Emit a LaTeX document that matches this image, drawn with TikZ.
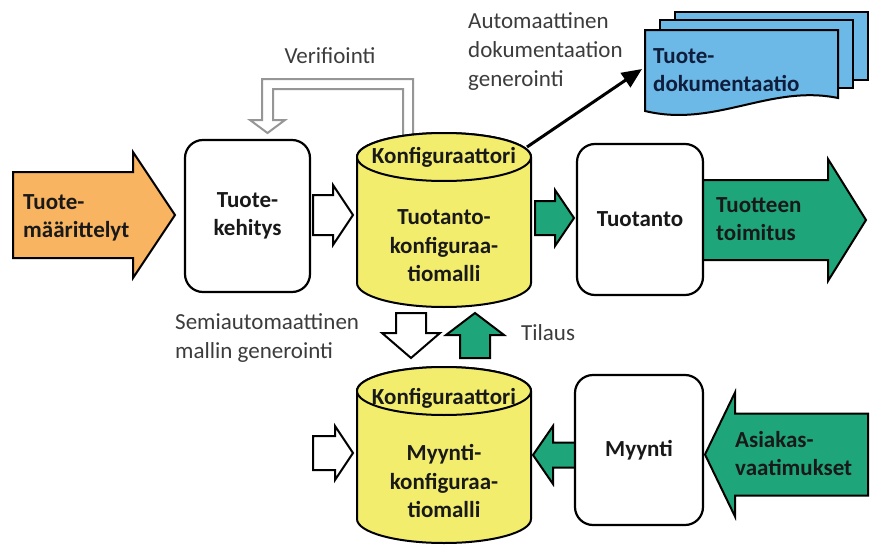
\documentclass[tikz,border=0pt]{standalone}
\usepackage{fontspec}
\setmainfont{Carlito}
\usetikzlibrary{arrows.meta}

\definecolor{orangefill}{RGB}{248,180,96}
\definecolor{yellowfill}{RGB}{243,237,110}
\definecolor{greenfill}{RGB}{30,166,122}
\definecolor{bluefill}{RGB}{108,184,230}
\definecolor{verigray}{RGB}{150,150,150}
\definecolor{labelgray}{RGB}{60,60,60}
\definecolor{darktext}{RGB}{25,25,25}
\definecolor{navytext}{RGB}{15,30,60}

% block arrows: style, tail, tip, centre line, body half width, head half width, head length
\newcommand\arrowR[7]{\draw[#1] ({#2},{#4-#5}) -- ({#3-#7},{#4-#5}) -- ({#3-#7},{#4-#6}) -- ({#3},{#4}) -- ({#3-#7},{#4+#6}) -- ({#3-#7},{#4+#5}) -- ({#2},{#4+#5}) -- cycle;}
\newcommand\arrowL[7]{\draw[#1] ({#2},{#4-#5}) -- ({#3+#7},{#4-#5}) -- ({#3+#7},{#4-#6}) -- ({#3},{#4}) -- ({#3+#7},{#4+#6}) -- ({#3+#7},{#4+#5}) -- ({#2},{#4+#5}) -- cycle;}
\newcommand\arrowD[7]{\draw[#1] ({#2-#5},{#3}) -- ({#2-#5},{#4-#7}) -- ({#2-#6},{#4-#7}) -- ({#2},{#4}) -- ({#2+#6},{#4-#7}) -- ({#2+#5},{#4-#7}) -- ({#2+#5},{#3}) -- cycle;}
\newcommand\arrowU[7]{\draw[#1] ({#2-#5},{#3}) -- ({#2-#5},{#4+#7}) -- ({#2-#6},{#4+#7}) -- ({#2},{#4}) -- ({#2+#6},{#4+#7}) -- ({#2+#5},{#4+#7}) -- ({#2+#5},{#3}) -- cycle;}

% database cylinder: centre x, top centre y, bottom centre y
\newcommand\dbcyl[3]{%
  \draw[cylstyle] ({#1-87},{#2}) -- ({#1-87},{#3})
    arc[start angle=180,end angle=360,x radius=87pt,y radius=24pt]
    -- ({#1+87},{#2})
    arc[start angle=0,end angle=180,x radius=87pt,y radius=24pt] -- cycle;
  \draw[cylstyle] ({#1},{#2}) ellipse[x radius=87pt,y radius=24pt];}

\begin{document}
\begin{tikzpicture}[x=1pt,y=-1pt,
  btxt/.style={font=\fontsize{23}{28.5}\selectfont\bfseries, text=darktext, align=center, inner sep=0pt},
  ltxt/.style={font=\fontsize{23}{29}\selectfont, text=labelgray, align=left, inner sep=0pt},
  procbox/.style={draw=black, line width=2.2pt, fill=white, rounded corners=18pt, inner sep=0pt},
  cylstyle/.style={draw=black, line width=2pt, fill=yellowfill},
  whitearrow/.style={draw=black, line width=2pt, fill=white, line join=miter},
  greenarrow/.style={draw=black, line width=2pt, fill=greenfill, line join=miter},
  orangearrow/.style={draw=black, line width=2pt, fill=orangefill, line join=miter},
  docpage/.style={draw=black, line width=2pt, fill=bluefill},
  veriarrow/.style={draw=verigray, line width=2pt, fill=white, line join=miter}]

\useasboundingbox (0,0) rectangle (871,546);
\fill[white] (0,0) rectangle (871,546);

% verification loop back to product development
\draw[veriarrow] (413,142) -- (413,79) -- (262,79) -- (262,120) -- (250,120) -- (267.5,133)
  -- (285,120) -- (273,120) -- (273,89) -- (403,89) -- (403,142);
\node[ltxt, anchor=base] (veri) at (330,63) {Verifiointi};

% product definitions input
\arrowR{orangearrow}{13}{175}{215}{43}{63}{42}
\node[btxt, align=left, anchor=west] (maar) at (23,218) {Tuote-\\määrittelyt};

% product development
\node[procbox, minimum width=125pt, minimum height=152pt] (kehitys) at (247.5,216) {};
\node[btxt] at (kehitys.center) {Tuote-\\kehitys};
\arrowR{whitearrow}{313}{353}{215}{20}{30}{20}

% production configurator
\dbcyl{444}{157}{283}
\node[btxt] (konf1) at (444,157) {Konfiguraattori};
\node[btxt] (tmalli) at (444,246) {Tuotanto-\\konfiguraa-\\tiomalli};

% documentation generation
\coordinate (cylout) at (527,147);
\coordinate (docin) at (642,69);
\draw[line width=3pt, -{Triangle[length=20pt,width=17pt]}] (cylout) -- (docin);
\node[ltxt, anchor=west] (autolbl) at (468,52) {Automaattinen\\dokumentaation\\generointi};

% stack of documentation pages
\draw[docpage] (675,12) rectangle (868,80);
\draw[docpage] (660,20) rectangle (853,88);
\draw[docpage] (645,30) -- (838,30) -- (838,98)
  .. controls (770,84) and (715,128) .. (645,111) -- cycle;
\node[btxt, text=navytext, align=left, anchor=west] (doc) at (653,70) {Tuote-\\dokumentaatio};

% production
\arrowR{greenarrow}{535}{574}{218}{17}{28}{19}
\node[procbox, minimum width=126pt, minimum height=151pt] (tuotanto) at (640,219.5) {};
\node[btxt] at (tuotanto.center) {Tuotanto};
\arrowR{greenarrow}{703}{866}{220}{40}{61}{38}
\node[btxt, align=left, anchor=west] (toimitus) at (716,219) {Tuotteen\\toimitus};

% links between the two configurators
\node[ltxt, anchor=west] (semi) at (175,338) {Semiautomaattinen\\mallin generointi};
\arrowD{whitearrow}{411}{313}{358}{15}{29}{25}
\arrowU{greenarrow}{475}{358}{313}{15}{29}{22}
\node[ltxt, anchor=base west] (tilaus) at (521,340) {Tilaus};

% sales configurator
\dbcyl{444}{391}{519}
\node[btxt] (konf2) at (444,398) {Konfiguraattori};
\node[btxt] (mmalli) at (444,481) {Myynti-\\konfiguraa-\\tiomalli};
\arrowR{whitearrow}{313}{353}{453}{17}{27}{18}

% sales
\arrowL{greenarrow}{575}{533}{455}{12.5}{29}{20}
\node[procbox, minimum width=128pt, minimum height=150pt] (myynti) at (639,450) {};
\node[btxt] at (myynti.center) {Myynti};
\arrowL{greenarrow}{868}{705}{454.5}{41}{62}{30}
\node[btxt, align=left, anchor=west] (asiakas) at (735,453.5) {Asiakas-\\vaatimukset};

\end{tikzpicture}
\end{document}
